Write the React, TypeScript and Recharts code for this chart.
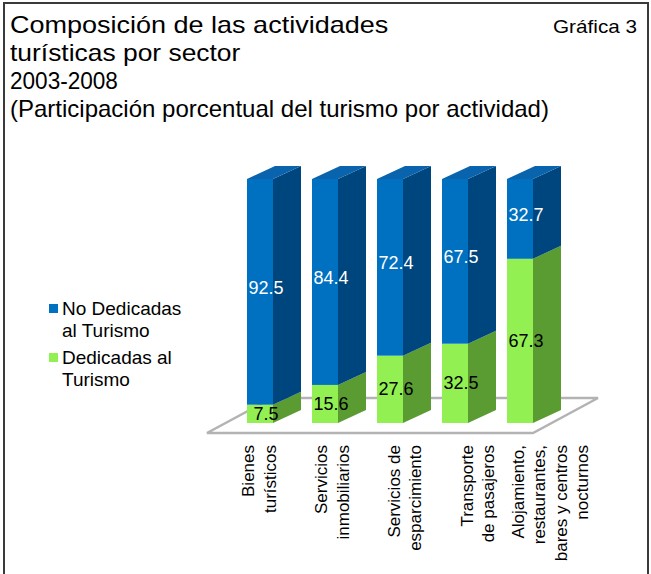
import React from "react";
import { BarChart, Bar, XAxis, YAxis, LabelList, ReferenceArea } from "recharts";

const categories = [
  "Bienes turísticos",
  "Servicios inmobiliarios",
  "Servicios de esparcimiento",
  "Transporte de pasajeros",
  "Alojamiento, restaurantes, bares y centros nocturnos",
];
const tickLines = [
  ["Bienes", "turísticos"],
  ["Servicios", "inmobiliarios"],
  ["Servicios de", "esparcimiento"],
  ["Transporte", "de pasajeros"],
  ["Alojamiento,", "restaurantes,", "bares y centros", "nocturnos"],
];
const dedicadas = [7.5, 15.6, 27.6, 32.5, 67.3];
const noDedicadas = [92.5, 84.4, 72.4, 67.5, 32.7];

const data = categories.map((cat, i) => ({
  cat,
  ded: dedicadas[i],
  noDed: noDedicadas[i],
}));

const FONT = '"Liberation Sans", Arial, sans-serif';
const BLUE = "#0070c0";
const BLUE_SIDE = "#00467e";
const BLUE_TOP = "#0a64ad";
const GREEN = "#92f052";
const GREEN_SIDE = "#5a9c32";

// 3d offset of the side face
const DX = 28;
const DY = -13;
// labels spread a little wider than the bars (perspective of the floor)
const LABEL_SPREAD = 7.8;

const makeBox = (front: string, side: string, top?: string) => (props: any) => {
  const { x, y, width, height } = props;
  if (height == null || width == null) return null;
  const r = x + width;
  const b = y + height;
  return (
    <g>
      <rect x={x} y={y} width={width} height={height} fill={front} />
      <polygon points={`${r},${b} ${r},${y} ${r + DX},${y + DY} ${r + DX},${b + DY}`} fill={side} />
      {top && <polygon points={`${x},${y} ${x + DX},${y + DY} ${r + DX},${y + DY} ${r},${y}`} fill={top} />}
    </g>
  );
};

const Floor = (props: any) => {
  const { x, y, width, height } = props;
  const base = y + height;
  const pts = `${x - 20},${base + 10} ${x + width - 19},${base + 10} ${x + width + 46},${base - 25} ${x + 45},${base - 25}`;
  return <polygon points={pts} fill="#fff" stroke="#b3b3b3" strokeWidth={2.5} />;
};

const makeLabel = (color: string, dy: number) => (props: any) => {
  const vb = props.viewBox || props;
  const { x, y, width, height } = vb;
  return (
    <text
      x={x + width / 2 + 6}
      y={y + height / 2 + dy}
      fill={color}
      fontSize={18}
      fontFamily={FONT}
      textAnchor="middle"
      dominantBaseline="central"
    >
      {props.value}
    </text>
  );
};

const CategoryTick = (props: any) => {
  const { x, y, payload } = props;
  const idx = categories.indexOf(payload.value);
  const lines = tickLines[idx] || [];
  const n = lines.length;
  const ty = y + 22;
  const mid = x + idx * LABEL_SPREAD;
  return (
    <g>
      {lines.map((ln, i) => {
        const cx = mid + (i - (n - 1) / 2) * 21.5;
        return (
          <text
            key={i}
            x={cx}
            y={ty}
            transform={`rotate(-90 ${cx} ${ty})`}
            textAnchor="end"
            dominantBaseline="central"
            fontSize={17}
            fontFamily={FONT}
            fill="#000"
          >
            {ln}
          </text>
        );
      })}
    </g>
  );
};

const titleLine: React.CSSProperties = {
  position: "absolute",
  left: 10,
  fontFamily: FONT,
  fontSize: 24,
  lineHeight: "28px",
  whiteSpace: "nowrap",
  color: "#000",
  transformOrigin: "0 50%",
};

const legendText: React.CSSProperties = {
  position: "absolute",
  left: 62,
  fontFamily: FONT,
  fontSize: 19,
  lineHeight: "22px",
  whiteSpace: "nowrap",
  color: "#000",
};

export default function App() {
  return (
    <div style={{ position: "absolute", left: 0, top: 0, width: 651, height: 574, overflow: "hidden", background: "#fff" }}>
      <div
        style={{
          position: "absolute",
          left: 3,
          top: 2,
          width: 642,
          height: 620,
          border: "2px solid #3a3a3a",
        }}
      />
      <div style={{ ...titleLine, top: 11, transform: "scaleX(1.125)" }}>Composición de las actividades</div>
      <div style={{ ...titleLine, top: 39, transform: "scaleX(1.1)" }}>turísticas por sector</div>
      <div style={{ ...titleLine, top: 67, transform: "scaleX(0.94)" }}>2003-2008</div>
      <div style={{ ...titleLine, top: 95 }}>(Participación porcentual del turismo por actividad)</div>
      <div style={{ ...titleLine, left: 553, top: 13, fontSize: 19, transform: "scaleX(1.09)" }}>Gráfica 3</div>

      <div style={{ position: "absolute", left: 49, top: 304, width: 9, height: 9, background: BLUE }} />
      <div style={{ ...legendText, top: 298 }}>No Dedicadas</div>
      <div style={{ ...legendText, top: 320 }}>al Turismo</div>
      <div style={{ position: "absolute", left: 49, top: 353, width: 9, height: 9, background: GREEN }} />
      <div style={{ ...legendText, top: 347 }}>Dedicadas al</div>
      <div style={{ ...legendText, top: 369 }}>Turismo</div>

      <div style={{ position: "absolute", left: 0, top: 0 }}>
        <BarChart width={651} height={574} data={data} margin={{ top: 179, right: 64, bottom: 121, left: 223 }}>
          <XAxis
            dataKey="cat"
            height={30}
            padding={{ left: 4, right: 35 }}
            axisLine={false}
            tickLine={false}
            tickSize={0}
            tickMargin={0}
            interval={0}
            tick={<CategoryTick />}
          />
          <YAxis hide domain={[0, 100]} />
          <ReferenceArea x1={categories[0]} x2={categories[4]} y1={0} y2={1} shape={Floor} ifOverflow="visible" />
          <Bar dataKey="ded" stackId="s" barSize={26} shape={makeBox(GREEN, GREEN_SIDE)} isAnimationActive={false}>
            <LabelList dataKey="ded" content={makeLabel("#000", 0)} />
          </Bar>
          <Bar dataKey="noDed" stackId="s" barSize={26} shape={makeBox(BLUE, BLUE_SIDE, BLUE_TOP)} isAnimationActive={false}>
            <LabelList dataKey="noDed" content={makeLabel("#fff", -4)} />
          </Bar>
        </BarChart>
      </div>
    </div>
  );
}
